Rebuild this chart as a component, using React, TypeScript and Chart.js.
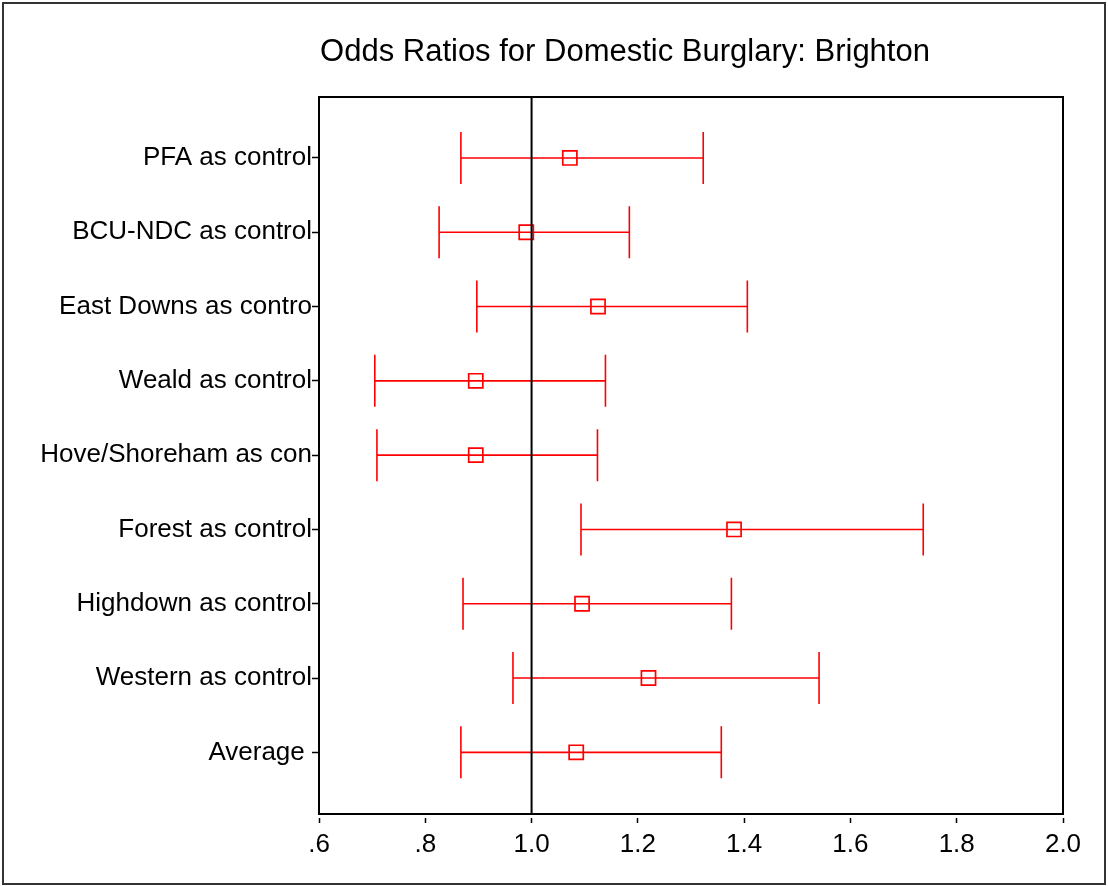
import React, { useEffect, useRef } from "react";
import { Chart, registerables } from "chart.js";

Chart.register(...registerables);

const chartTitle = "Odds Ratios for Domestic Burglary: Brighton";
const categories = [
  "PFA as control",
  "BCU-NDC as control",
  "East Downs as contro",
  "Weald as control",
  "Hove/Shoreham as con",
  "Forest as control",
  "Highdown as control",
  "Western as control",
  "Average ",
];
const oddsRatio = [1.072, 0.99, 1.125, 0.895, 0.895, 1.381, 1.095, 1.22, 1.084];
const lowerCI = [0.867, 0.826, 0.897, 0.705, 0.709, 1.093, 0.871, 0.965, 0.867];
const upperCI = [1.323, 1.184, 1.406, 1.139, 1.124, 1.737, 1.376, 1.541, 1.357];
const xTickValues = [0.6, 0.8, 1.0, 1.2, 1.4, 1.6, 1.8, 2.0];
const xTickLabels = [".6", ".8", "1.0", "1.2", "1.4", "1.6", "1.8", "2.0"];
const referenceValue = 1.0;

const X_MIN = 0.6;
const X_MAX = 2.0;
const Y_MIN = -0.82;
const Y_MAX = 8.83;
const FONT = '"Liberation Sans", Arial, Helvetica, sans-serif';
const RED = "#ff0000";
const CAP = 26;

const decorPlugin = {
  id: "decor",
  beforeDatasetsDraw(chart: any) {
    const { ctx, scales } = chart;
    const xs = scales.x;
    const ys = scales.y;
    ctx.save();
    ctx.strokeStyle = RED;
    ctx.lineWidth = 1.6;
    categories.forEach((_, i) => {
      const py = ys.getPixelForValue(i);
      const x1 = xs.getPixelForValue(lowerCI[i]);
      const x2 = xs.getPixelForValue(upperCI[i]);
      ctx.beginPath();
      ctx.moveTo(x1, py);
      ctx.lineTo(x2, py);
      ctx.moveTo(x1, py - CAP);
      ctx.lineTo(x1, py + CAP);
      ctx.moveTo(x2, py - CAP);
      ctx.lineTo(x2, py + CAP);
      ctx.stroke();
    });
    ctx.restore();
  },
  afterDraw(chart: any) {
    const { ctx, chartArea } = chart;
    ctx.save();
    ctx.strokeStyle = "#000";
    ctx.lineWidth = 2;
    ctx.strokeRect(
      chartArea.left,
      chartArea.top,
      chartArea.right - chartArea.left,
      chartArea.bottom - chartArea.top
    );
    ctx.strokeStyle = "#333";
    ctx.lineWidth = 2;
    ctx.strokeRect(3, 3, 1102, 881);
    ctx.fillStyle = "#000";
    ctx.font = `31px ${FONT}`;
    ctx.textAlign = "center";
    ctx.textBaseline = "alphabetic";
    ctx.fillText(chartTitle, 625, 61);
    ctx.restore();
  },
};

export default function App() {
  const canvasRef = useRef<HTMLCanvasElement | null>(null);

  useEffect(() => {
    const canvas = canvasRef.current;
    if (!canvas) return;
    const chart = new Chart(canvas, {
      type: "scatter",
      data: {
        datasets: [
          {
            type: "line",
            data: [
              { x: referenceValue, y: Y_MIN },
              { x: referenceValue, y: Y_MAX },
            ],
            borderColor: "#000",
            borderWidth: 2,
            pointRadius: 0,
            fill: false,
          } as any,
          {
            type: "scatter",
            data: categories.map((_, i) => ({ x: oddsRatio[i], y: i })),
            pointStyle: "rect",
            pointRadius: 10,
            pointBorderWidth: 1.7,
            pointBorderColor: RED,
            pointBackgroundColor: "rgba(0,0,0,0)",
          } as any,
        ],
      },
      options: {
        responsive: false,
        devicePixelRatio: 1,
        animation: false,
        layout: { padding: { left: 0, right: 45, top: 97, bottom: 0 } },
        plugins: {
          legend: { display: false },
          tooltip: { enabled: false },
          title: { display: false },
        },
        scales: {
          x: {
            type: "linear",
            position: "bottom",
            min: X_MIN,
            max: X_MAX,
            afterBuildTicks: (s: any) => {
              s.ticks = xTickValues.map((v) => ({ value: v }));
            },
            afterFit: (s: any) => {
              s.height = 72;
            },
            ticks: {
              autoSkip: false,
              maxRotation: 0,
              padding: 6,
              color: "#000",
              font: { family: FONT, size: 26 },
              callback: (_v: any, i: number) => xTickLabels[i],
            },
            grid: {
              drawOnChartArea: false,
              drawTicks: true,
              tickLength: 9,
              tickBorderDash: [5, 4],
              tickBorderDashOffset: 5,
              tickColor: "#000",
              tickWidth: 1.5,
            },
            border: { display: false },
          },
          y: {
            type: "linear",
            position: "left",
            reverse: true,
            min: Y_MIN,
            max: Y_MAX,
            afterBuildTicks: (s: any) => {
              s.ticks = categories.map((_, i) => ({ value: i }));
            },
            afterFit: (s: any) => {
              s.width = 319;
            },
            ticks: {
              autoSkip: false,
              padding: 0,
              color: "#000",
              font: { family: FONT, size: 26 },
              callback: (v: any) => categories[Math.round(Number(v))],
            },
            grid: {
              drawOnChartArea: false,
              drawTicks: true,
              tickLength: 7,
              tickColor: "#000",
              tickWidth: 1.5,
            },
            border: { display: false },
          },
        },
      } as any,
      plugins: [decorPlugin],
    });
    return () => chart.destroy();
  }, []);

  return (
    <div
      style={{
        position: "fixed",
        left: 0,
        top: 0,
        width: 1108,
        height: 886,
        background: "#fff",
      }}
    >
      <canvas ref={canvasRef} width={1108} height={886} style={{ width: 1108, height: 886, display: "block" }} />
    </div>
  );
}
